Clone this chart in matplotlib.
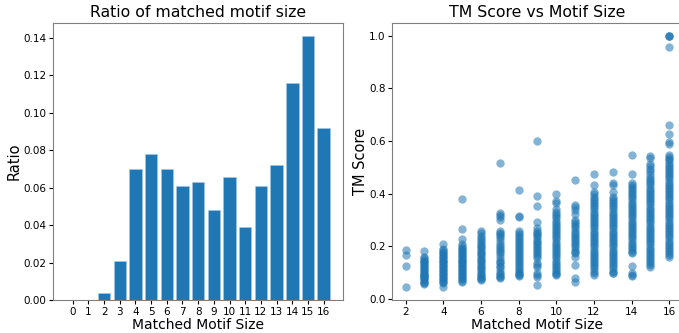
import numpy as np
import matplotlib
matplotlib.use('Agg')
import matplotlib.pyplot as plt

# bar chart: ratio of each matched motif size
bar_sizes = list(range(17))
bar_ratios = [0.0, 0.0, 0.004, 0.021, 0.070, 0.078, 0.070, 0.061, 0.063,
              0.048, 0.066, 0.039, 0.061, 0.072, 0.116, 0.141, 0.092]

tm_size_02 = [0.186, 0.167, 0.126, 0.047]
tm_size_03 = [0.183, 0.16, 0.155, 0.15, 0.145, 0.14, 0.135, 0.13, 0.125, 0.12,
              0.115, 0.11, 0.105, 0.10, 0.095, 0.092, 0.09, 0.085, 0.082, 0.08,
              0.075, 0.07, 0.065, 0.06, 0.057]
tm_size_04 = [0.207, 0.19, 0.185, 0.18, 0.175, 0.17, 0.165, 0.16, 0.155, 0.15,
              0.145, 0.14, 0.135, 0.13, 0.125, 0.12, 0.115, 0.11, 0.105, 0.10,
              0.095, 0.09, 0.085, 0.08, 0.075, 0.07, 0.065, 0.06, 0.044]
tm_size_05 = [0.379, 0.266, 0.226, 0.207, 0.20, 0.195, 0.19, 0.185, 0.18, 0.175,
              0.17, 0.165, 0.16, 0.155, 0.15, 0.145, 0.14, 0.135, 0.13, 0.125,
              0.12, 0.115, 0.11, 0.105, 0.10, 0.095, 0.09, 0.085, 0.08, 0.075,
              0.07, 0.064]
tm_size_06 = [0.258, 0.249, 0.24, 0.232, 0.225, 0.218, 0.21, 0.203, 0.196, 0.19,
              0.183, 0.176, 0.17, 0.163, 0.156, 0.15, 0.143, 0.136, 0.13, 0.123,
              0.116, 0.11, 0.103, 0.096, 0.09, 0.085, 0.08, 0.076, 0.073]
tm_size_07 = [0.516, 0.327, 0.318, 0.312, 0.30, 0.26, 0.252, 0.245, 0.24, 0.23,
              0.22, 0.21, 0.20, 0.193, 0.188, 0.18, 0.17, 0.16, 0.15, 0.14,
              0.135, 0.125, 0.12, 0.11, 0.10, 0.095, 0.088, 0.082, 0.078]
tm_size_08 = [0.413, 0.314, 0.31, 0.257, 0.25, 0.243, 0.235, 0.228, 0.22, 0.212,
              0.205, 0.198, 0.19, 0.183, 0.175, 0.168, 0.16, 0.153, 0.145, 0.138,
              0.13, 0.122, 0.115, 0.108, 0.10, 0.095, 0.09, 0.087]
tm_size_09 = [0.598, 0.39, 0.352, 0.293, 0.268, 0.26, 0.252, 0.245, 0.238, 0.23,
              0.222, 0.215, 0.208, 0.2, 0.193, 0.185, 0.178, 0.17, 0.162, 0.154,
              0.135, 0.128, 0.122, 0.097, 0.09, 0.085, 0.053]
tm_size_10 = [0.40, 0.371, 0.366, 0.343, 0.33, 0.322, 0.314, 0.306, 0.298, 0.29,
              0.282, 0.274, 0.266, 0.258, 0.25, 0.242, 0.234, 0.226, 0.218, 0.21,
              0.202, 0.194, 0.186, 0.178, 0.17, 0.162, 0.154, 0.146, 0.138, 0.13,
              0.122, 0.114, 0.106, 0.10, 0.095, 0.09]
tm_size_11 = [0.45, 0.356, 0.348, 0.337, 0.324, 0.30, 0.292, 0.284, 0.276, 0.268,
              0.26, 0.252, 0.244, 0.236, 0.228, 0.22, 0.212, 0.204, 0.196, 0.188,
              0.18, 0.173, 0.16, 0.131, 0.078, 0.066]
tm_size_12 = [0.476, 0.434, 0.406, 0.40, 0.388, 0.38, 0.372, 0.364, 0.356, 0.348,
              0.34, 0.332, 0.324, 0.316, 0.308, 0.30, 0.292, 0.284, 0.276, 0.268,
              0.26, 0.252, 0.244, 0.236, 0.228, 0.22, 0.212, 0.204, 0.196, 0.188,
              0.18, 0.172, 0.164, 0.156, 0.148, 0.14, 0.132, 0.124, 0.116, 0.108,
              0.10, 0.092]
tm_size_13 = [0.481, 0.441, 0.432, 0.406, 0.388, 0.38, 0.372, 0.364, 0.356, 0.348,
              0.34, 0.332, 0.324, 0.316, 0.308, 0.30, 0.292, 0.284, 0.276, 0.268,
              0.26, 0.252, 0.244, 0.236, 0.228, 0.22, 0.212, 0.204, 0.196, 0.188,
              0.18, 0.172, 0.164, 0.156, 0.148, 0.14, 0.132, 0.124, 0.116, 0.108,
              0.10, 0.097]
tm_size_14 = [0.545, 0.473, 0.44, 0.432, 0.425, 0.417, 0.41, 0.402, 0.394, 0.386,
              0.378, 0.37, 0.362, 0.354, 0.346, 0.338, 0.33, 0.322, 0.314, 0.306,
              0.298, 0.29, 0.282, 0.274, 0.266, 0.258, 0.25, 0.242, 0.234, 0.226,
              0.218, 0.21, 0.202, 0.194, 0.186, 0.178, 0.173, 0.126, 0.10, 0.093,
              0.087]
tm_size_15 = [0.542, 0.535, 0.514, 0.505, 0.495, 0.485, 0.476, 0.463, 0.455, 0.447,
              0.439, 0.431, 0.423, 0.415, 0.407, 0.399, 0.391, 0.383, 0.375, 0.367,
              0.359, 0.351, 0.343, 0.335, 0.327, 0.319, 0.311, 0.303, 0.295, 0.287,
              0.279, 0.271, 0.263, 0.255, 0.247, 0.239, 0.231, 0.223, 0.215, 0.207,
              0.199, 0.191, 0.183, 0.175, 0.167, 0.159, 0.151, 0.143, 0.135, 0.128,
              0.122]
tm_size_16 = [1.0, 1.0, 1.0, 0.958, 0.659, 0.628, 0.596, 0.59, 0.545, 0.538,
              0.533, 0.527, 0.518, 0.51, 0.502, 0.494, 0.486, 0.478, 0.47, 0.462,
              0.454, 0.446, 0.438, 0.43, 0.422, 0.414, 0.406, 0.398, 0.39, 0.382,
              0.374, 0.366, 0.358, 0.35, 0.342, 0.334, 0.326, 0.318, 0.31, 0.302,
              0.294, 0.286, 0.278, 0.27, 0.262, 0.254, 0.246, 0.238, 0.23, 0.222,
              0.214, 0.206, 0.198, 0.19, 0.182, 0.174, 0.167, 0.16]

scatter_sizes = list(range(2, 17))
scatter_scores = [tm_size_02, tm_size_03, tm_size_04, tm_size_05, tm_size_06,
                  tm_size_07, tm_size_08, tm_size_09, tm_size_10, tm_size_11,
                  tm_size_12, tm_size_13, tm_size_14, tm_size_15, tm_size_16]

fig = plt.figure(figsize=(6.79, 3.33), dpi=100)
ax1 = fig.add_axes([0.0785, 0.099, 0.4267, 0.832])
ax2 = fig.add_axes([0.578, 0.099, 0.427, 0.832])

ax1.bar(bar_sizes, bar_ratios, color='#1f77b4', edgecolor='#a6c8e6', linewidth=0.4)
ax1.set_xticks(bar_sizes)
ax1.set_title('Ratio of matched motif size', fontsize=11.3, pad=4)
ax1.set_xlabel('Matched Motif Size', fontsize=10, labelpad=1)
ax1.set_ylabel('Ratio', fontsize=10.5, labelpad=1)

xs = np.concatenate([[s] * len(v) for s, v in zip(scatter_sizes, scatter_scores)])
ys = np.concatenate(scatter_scores)
ax2.scatter(xs, ys, s=36, alpha=0.55, color='#1f77b4', linewidths=0)
ax2.set_title('TM Score vs Motif Size', fontsize=11.3, pad=4)
ax2.set_xlabel('Matched Motif Size', fontsize=10, labelpad=1)
ax2.set_ylabel('TM Score', fontsize=10.5, labelpad=1)

for ax in (ax1, ax2):
    ax.tick_params(labelsize=7.5, length=3, pad=2)
    for sp in ax.spines.values():
        sp.set_color('#808080')

fig.savefig('out.png', dpi=100)
